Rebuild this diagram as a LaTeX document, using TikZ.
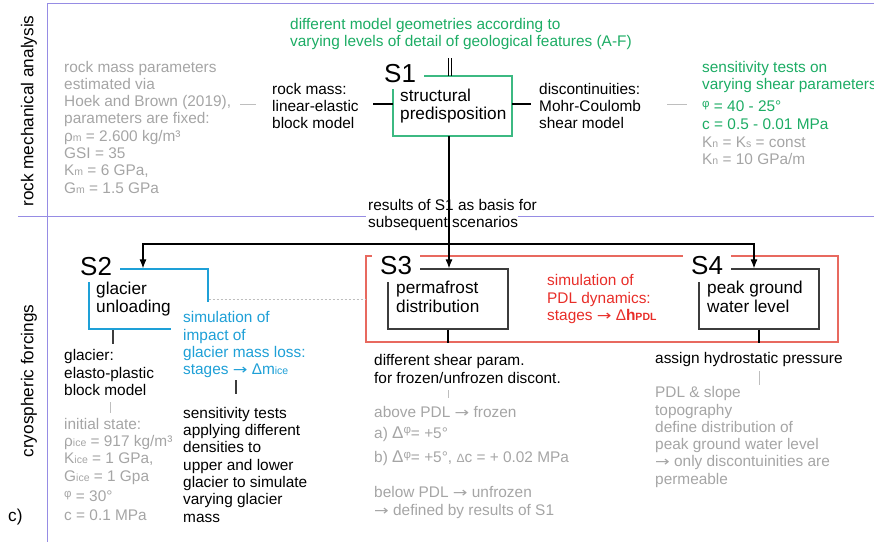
\documentclass[tikz,border=0pt]{standalone}
\usepackage{fontspec}
\usepackage{graphicx}
\setmainfont{Liberation Sans}
\newfontfamily\dejavu{DejaVu Sans}
\usetikzlibrary{arrows.meta}
\definecolor{lav}{RGB}{150,140,228}
\definecolor{grn}{RGB}{28,172,100}
\definecolor{grnbox}{RGB}{60,185,130}
\definecolor{blu}{RGB}{30,160,215}
\definecolor{redt}{RGB}{232,45,40}
\definecolor{redb}{RGB}{232,105,95}
\definecolor{gtx}{RGB}{165,165,165}
\definecolor{gtk}{RGB}{190,190,190}
\definecolor{dk}{RGB}{60,60,60}
\newcommand\ftn{\fontsize{15.4}{17.3}\selectfont}
\newcommand\fbx{\fontsize{17.2}{18.8}\selectfont}
\newcommand\fbig{\fontsize{26}{28}\selectfont}
\newcommand\sbs[1]{{\fontsize{10.5}{10}\selectfont #1}}
\newcommand\phis{\raisebox{4.5pt}{\fontsize{11.5}{11}\selectfont φ}}
\newcommand\arr{{\fontsize{14}{14}\dejavu\scalebox{1.25}[1]{→}}}
\newcommand\ml[1]{\begin{tabular}[t]{@{}l@{}}#1\end{tabular}}
\tikzset{
  txt/.style={anchor=base west, inner sep=0pt, font=\ftn, text=black},
  gtxt/.style={txt, text=gtx},
  bxt/.style={txt, font=\fbx},
  lbl/.style={anchor=base west, font=\fbig, fill=white, inner xsep=8pt, inner ysep=7pt},
  box/.style={draw, line width=1.2pt, inner sep=0pt, minimum width=119pt, minimum height=60pt},
  conn/.style={line width=1.1pt, black},
  gtick/.style={line width=1pt, gtk},
  dtick/.style={line width=1.1pt, dk},
  arr/.style={conn, -{Latex[length=9pt,width=7pt]}},
}
\begin{document}
\begin{tikzpicture}[x=1pt,y=-1pt]
\useasboundingbox (0,0) rectangle (874,542);
% frame lines
\coordinate (f1) at (47,3);
\coordinate (f2) at (874,3);
\coordinate (f3) at (47,542);
\coordinate (m1) at (18,216.5);
\coordinate (m2) at (366,216.5);
\coordinate (m3) at (518,216.5);
\coordinate (m4) at (874,216.5);
\draw[lav, line width=1pt] (f2) -- (f1) -- (f3);
\draw[lav, line width=1pt] (m1) -- (m2) (m3) -- (m4);
\node[rotate=90, font=\fbx] (lab1) at (29,111) {rock mechanical analysis};
\node[rotate=90, font=\fbx] (lab2) at (29,381) {cryospheric forcings};
\node[txt, font=\fbx] (lc) at (8,521) {c)};
% boxes
\node[box, draw=redb, minimum width=472pt, minimum height=86pt] (pdl) at (602,299) {};
\node[box, draw=grnbox] (s1) at (452.5,106) {};
\node[box, draw=blu] (s2) at (148.5,299) {};
\node[box, draw=dk, minimum width=120pt] (s3) at (448,299) {};
\node[box, draw=dk, minimum width=120pt] (s4) at (759,299) {};
\node[lbl] (s1l) at (376,82) {S1};
\node[lbl] (s2l) at (72,275) {S2};
\node[lbl] (s3l) at (372,274.5) {S3};
\node[lbl] (s4l) at (683,274.5) {S4};
% top part texts
\node[txt, text=grn] (geo) at (290,29) {\ml{different model geometries according to\\varying levels of detail of geological features (A-F)}};
\node[gtxt] (rmp) at (64,72) {\ml{rock mass parameters\\estimated via\\Hoek and Brown (2019),\\parameters are fixed:\\ρ\sbs{m} = 2.600 kg/m³\\GSI = 35\\K\sbs{m} = 6 GPa,\\G\sbs{m} = 1.5 GPa}};
\node[txt] (rm) at (272,94) {\ml{rock mass:\\linear-elastic\\block model}};
\node[bxt] (s1t) at (400,101) {\ml{structural\\predisposition}};
\node[txt] (dc) at (539,94) {\ml{discontinuities:\\Mohr-Coulomb\\shear model}};
\node[txt, text=grn] (sens) at (702,72) {\ml{sensitivity tests on\\varying shear parameters\\[5pt]\phis{} = 40 - 25°\\[1pt]c = 0.5 - 0.01 MPa}};
\node[gtxt] (kn) at (702,147) {\ml{K\sbs{n} = K\sbs{s} = const\\K\sbs{n} = 10 GPa/m}};
\node[txt] (res) at (368,210) {\ml{results of S1 as basis for\\subsequent scenarios}};
% S2 texts
\node[bxt] (s2t) at (96,294) {\ml{glacier\\unloading}};
\node[txt, text=blu, fill=white, inner xsep=12pt, inner ysep=9pt] (gml) at (171,322.7) {\ml{simulation of\\impact of\\glacier mass loss:\\stages \arr{} Δm\sbs{ice}}};
\node[txt] (gm) at (64,360.7) {\ml{glacier:\\elasto-plastic\\block model}};
\node[gtxt] (ini) at (64,429.3) {\ml{initial state:\\ρ\sbs{ice} = 917 kg/m³\\K\sbs{ice} = 1 GPa,\\G\sbs{ice} = 1 Gpa\\[3pt]\phis{} = 30°\\[1.5pt]c = 0.1 MPa}};
\node[txt] (gst) at (183,418.3) {\ml{sensitivity tests\\applying different\\densities to\\upper and lower\\glacier to simulate\\varying glacier\\mass}};
% S3 texts
\node[bxt] (s3t) at (396,293.3) {\ml{permafrost\\distribution}};
\node[txt, text=redt] (pdlt) at (547,285.7) {\ml{simulation of\\PDL dynamics:\\stages \arr{} Δ\textbf{h}\sbs{\textbf{PDL}}}};
\node[txt] (dsp) at (374,365.7) {\ml{different shear param.\\for frozen/unfrozen discont.}};
\node[gtxt] (apdl) at (374,417.7) {\ml{above PDL \arr{} frozen\\[3.3pt]a) {\fontsize{17}{17}\selectfont Δ}\phis= +5°\\[7pt]b) {\fontsize{17}{17}\selectfont Δ}\phis= +5°, {\fontsize{12}{12}\selectfont Δ}c = + 0.02 MPa\\[17.7pt]below PDL \arr{} unfrozen\\[0.7pt]\arr{} defined by results of S1}};
% S4 texts
\node[bxt] (s4t) at (707,293.3) {\ml{peak ground\\water level}};
\node[txt] (ahp) at (655,363.3) {assign hydrostatic pressure};
\node[gtxt] (topo) at (655,397.7) {\ml{PDL \& slope\\topography\\define distribution of\\peak ground water level\\\arr{} only discontuinities are\\permeable}};
% connectors
\coordinate (hb1) at (240,104); \coordinate (hb2) at (256,104);
\draw[gtick] (hb1) -- (hb2);
\coordinate (rl1) at (373,104); \coordinate (rl2) at (393,104);
\draw[conn] (rl1) -- (rl2);
\coordinate (rr1) at (512,104); \coordinate (rr2) at (531,104);
\draw[conn] (rr1) -- (rr2);
\coordinate (sg1) at (667,104); \coordinate (sg2) at (687,104);
\draw[gtick] (sg1) -- (sg2);
\coordinate (dl1) at (448,58); \coordinate (dl2) at (448,76);
\coordinate (dl3) at (451.5,58); \coordinate (dl4) at (451.5,76);
\draw[line width=0.9pt] (dl1) -- (dl2) (dl3) -- (dl4);
\coordinate (s1b) at (449,136);
\coordinate (t2) at (143,244);
\coordinate (t4) at (754,244);
\draw[arr] (s1b) -- (s3.north -| s1b);
\draw[conn, {Latex[length=9pt,width=7pt]}-{Latex[length=9pt,width=7pt]}] (s4.north -| t4) -- (t4) -- (t2) -- (s2.north -| t2);
\draw[gtk, line width=0.9pt, dash pattern=on 2pt off 2pt] (s2.east) -- (pdl.west);
\draw[conn] (s3.south) -- (s3.south |- pdl.south);
\draw[conn] (s4.south) -- (s4.south |- pdl.south);
\coordinate (g1) at (113,330); \coordinate (g2) at (113,344);
\draw[dtick] (g1) -- (g2);
\coordinate (g3) at (110,402); \coordinate (g4) at (110,413);
\draw[gtick] (g3) -- (g4);
\coordinate (g5) at (236,380); \coordinate (g6) at (236,394);
\draw[dtick] (g5) -- (g6);
\coordinate (g7) at (448,390); \coordinate (g8) at (448,398);
\draw[gtick] (g7) -- (g8);
\coordinate (g9) at (759,371); \coordinate (g10) at (759,385);
\draw[gtick] (g9) -- (g10);
\end{tikzpicture}
\end{document}
